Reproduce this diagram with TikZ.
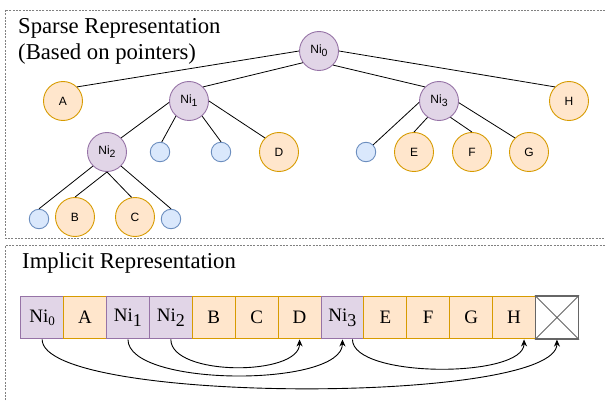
\documentclass[tikz,border=0pt]{standalone}
\usepackage{fontspec}
\setmainfont{Liberation Serif}
\newfontfamily\sansf{Liberation Sans}
\usetikzlibrary{arrows.meta,calc}
\definecolor{pfill}{HTML}{E1D5E7}
\definecolor{pdraw}{HTML}{9673A6}
\definecolor{ofill}{HTML}{FFE6CC}
\definecolor{odraw}{HTML}{D79B00}
\definecolor{bfill}{HTML}{DAE8FC}
\definecolor{bdraw}{HTML}{6C8EBF}
\definecolor{boxgray}{HTML}{808080}
\tikzset{
  tn/.style={circle,minimum size=39pt,inner sep=0pt,line width=0.9pt,font=\sansf\fontsize{12}{12}\selectfont},
  pn/.style={tn,draw=pdraw,fill=pfill},
  on/.style={tn,draw=odraw,fill=ofill},
  bn/.style={circle,minimum size=19.5pt,inner sep=0pt,line width=0.9pt,draw=bdraw,fill=bfill},
  edge/.style={line width=0.8pt,black},
  cell/.style={rectangle,minimum size=42.9pt,inner sep=0pt,line width=1pt,font=\fontsize{19}{19}\selectfont},
  pc/.style={cell,draw=pdraw,fill=pfill},
  oc/.style={cell,draw=odraw,fill=ofill},
  xc/.style={cell,draw=black!60,fill=white,line width=1.3pt},
  arr/.style={line width=0.9pt,-{Stealth[length=7pt,width=6pt]}},
  frame/.style={draw=boxgray,line width=0.8pt,dash pattern=on 2pt off 1.3pt},
  title/.style={anchor=base west,inner sep=0pt,font=\fontsize{22.7}{22.7}\selectfont}
}
\newcommand{\tsub}[1]{\raisebox{-3pt}{\fontsize{10.5}{10.5}\selectfont #1}}
\newcommand{\csubA}[1]{\raisebox{-3pt}{\fontsize{13}{13}\selectfont #1}}
\newcommand{\csubB}[1]{\raisebox{-5pt}{\fontsize{18}{18}\selectfont #1}}
\begin{document}
\begin{tikzpicture}[x=1pt,y=-1pt]
\useasboundingbox (0,0) rectangle (605,401);
% frames
\draw[frame] (5.5,10) rectangle (615,238.3);
\draw[frame] (5.5,420) -- (5.5,245.3) -- (615,245.3);
% titles
\node[title] (t1) at (18,33.3) {Sparse Representation};
\node[title] (t2) at (18,60) {(Based on pointers)};
\node[title] (t3) at (22,268.3) {Implicit Representation};
% tree
\node[pn] (n0) at (319,51) {Ni\tsub{0}};
\node[on] (A) at (63,101) {A};
\node[pn] (n1) at (189,101) {Ni\tsub{1}};
\node[pn] (n3) at (439,101) {Ni\tsub{3}};
\node[on] (H) at (569,101) {H};
\node[pn] (n2) at (107,152) {Ni\tsub{2}};
\node[bn] (b1) at (160,152) {};
\node[bn] (b2) at (221,152) {};
\node[on] (D) at (279,152) {D};
\node[bn] (b3) at (366,152) {};
\node[on] (E) at (414,152) {E};
\node[on] (F) at (472,152) {F};
\node[on] (G) at (529,152) {G};
\node[bn] (b4) at (39,219) {};
\node[on] (B) at (75,217) {B};
\node[on] (C) at (135,217) {C};
\node[bn] (b5) at (171,219) {};
\draw[edge] (n0.180) -- (A.45);
\draw[edge] (n0.216) -- (n1.45);
\draw[edge] (n0.-45) -- (n3.135);
\draw[edge] (n0.0) -- (H.135);
\draw[edge] (n1.184) -- (n2.45);
\draw[edge] (n1.-131) -- (b1.80);
\draw[edge] (n1.-49) -- (b2.90);
\draw[edge] (n1.0) -- (D.135);
\draw[edge] (n2.-135) -- (b4.90);
\draw[edge] (n2.-90) -- (B.90);
\draw[edge] (n2.-90) -- (C.100);
\draw[edge] (n2.-45) -- (b5.90);
\draw[edge] (n3.184) -- (b3.45);
\draw[edge] (n3.-125) -- (E.90);
\draw[edge] (n3.-55) -- (F.90);
\draw[edge] (n3.-5) -- (G.135);
% array
\node[pc] (c0) at (42.15,317.5) {Ni\csubA{0}};
\node[oc] (c1) at (85.05,317.5) {A};
\node[pc] (c2) at (127.95,317.5) {Ni\csubB{1}};
\node[pc] (c3) at (170.85,317.5) {Ni\csubB{2}};
\node[oc] (c4) at (213.75,317.5) {B};
\node[oc] (c5) at (256.65,317.5) {C};
\node[oc] (c6) at (299.55,317.5) {D};
\node[pc] (c7) at (342.45,317.5) {Ni\csubB{3}};
\node[oc] (c8) at (385.35,317.5) {E};
\node[oc] (c9) at (428.25,317.5) {F};
\node[oc] (c10) at (471.15,317.5) {G};
\node[oc] (c11) at (514.05,317.5) {H};
\node[xc] (c12) at (556.95,317.5) {};
\draw[black!60,line width=0.9pt] (c12.north west) -- (c12.south east) (c12.north east) -- (c12.south west);
% arrows
\draw[arr] (c0.south) .. controls ($(c0.south)+(0,65)$) and ($(c12.south)+(0,65)$) .. (c12.south);
\draw[arr] (c2.south) .. controls ($(c2.south)+(0,48)$) and ($(c7.south)+(0,48)$) .. (c7.south);
\draw[arr] (c3.south) .. controls ($(c3.south)+(0,37)$) and ($(c6.south)+(0,37)$) .. (c6.south);
\draw[arr] ($(c7.south)+(10,0)$) coordinate (s4) .. controls ($(s4)+(0,39)$) and ($(c11.south)+(10,39)$) .. ($(c11.south)+(10,0)$);
\end{tikzpicture}
\end{document}
